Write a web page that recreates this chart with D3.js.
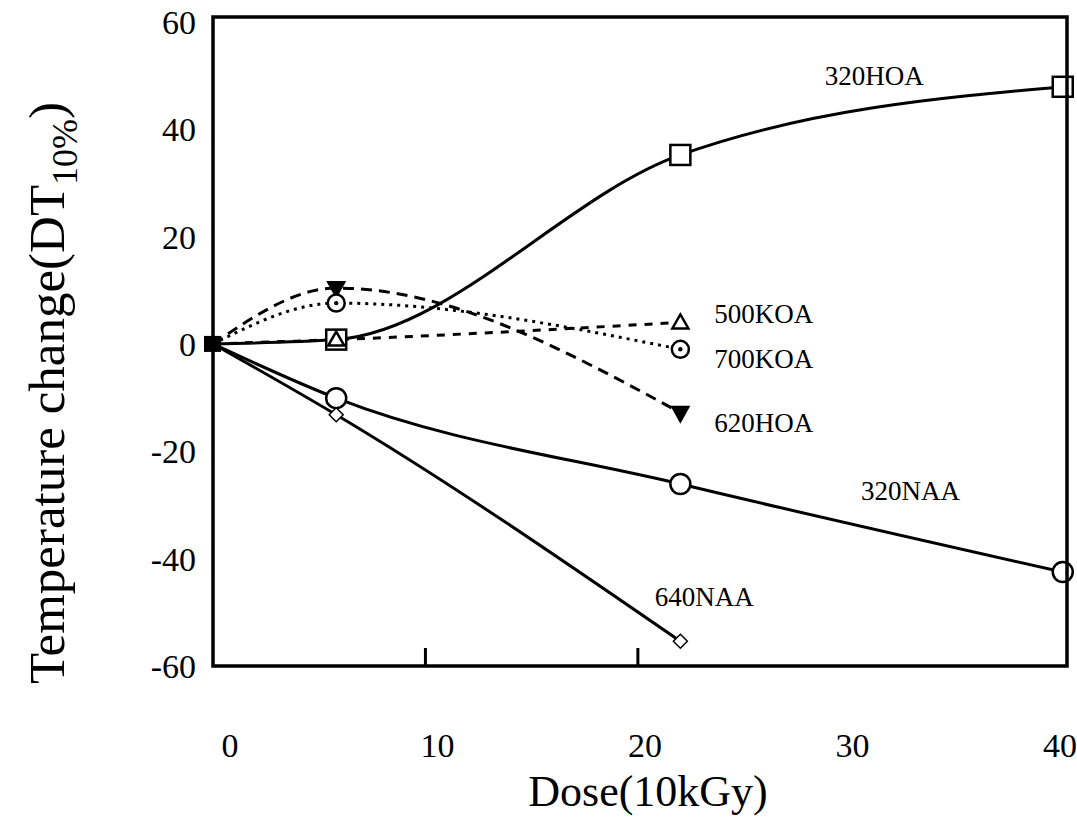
<!DOCTYPE html>
<html>
<head>
<meta charset="utf-8">
<script src="https://cdn.jsdelivr.net/npm/d3@7"></script>
<style>
body { margin: 0; background: #fff; }
text { font-family: "Liberation Serif", "Times New Roman", serif; fill: #000; }
</style>
</head>
<body>
<div id="chart"></div>
<script>
// dose values (10kGy) where samples were measured
var doses = [0, 5.8, 22, 40];
// temperature change DT10% per grade
var hoa320 = [0, 0.8, 35.2, 47.9];
var naa320 = [0, -10.1, -26.1, -42.5];
var naa640 = [0, -13.2, -55.4];
var koa500 = [0, 0.8, 4.0];
var koa700 = [0, 7.6, -1.0];
var hoa620 = [0, 10.4, -12.8];
var xTicks = [0, 10, 20, 30, 40];
var yTicks = [60, 40, 20, 0, -20, -40, -60];

var W = 1077, H = 819;
var box = {left: 213, right: 1067, top: 17, bottom: 666};

var svg = d3.select("#chart").append("svg")
    .attr("width", W)
    .attr("height", H);

var x = d3.scaleLinear().domain([0, 40.2]).range([box.left, box.right]);
var y = d3.scaleLinear().domain([-60, 60.9]).range([box.bottom, box.top]);
// tick labels in the scan sit a bit off the tick marks
var xLab = d3.scaleLinear().domain([0, 40]).range([230, 1060]);

function pts(vals) {
  return vals.map(function(v, i) { return [doses[i], v]; });
}

var line = d3.line()
    .x(function(d) { return x(d[0]); })
    .y(function(d) { return y(d[1]); })
    .curve(d3.curveMonotoneX);

var series = [
  {name: "320HOA", vals: hoa320, dash: null},
  {name: "320NAA", vals: naa320, dash: null},
  {name: "640NAA", vals: naa640, dash: null},
  {name: "500KOA", vals: koa500, dash: "8,8"},
  {name: "700KOA", vals: koa700, dash: "3,5"},
  {name: "620HOA", vals: hoa620, dash: "11,7"}
];

var plot = svg.append("g");
plot.selectAll("path.s")
  .data(series)
  .enter().append("path")
    .attr("class", "s")
    .attr("d", function(d) { return line(pts(d.vals)); })
    .attr("fill", "none")
    .attr("stroke", "#000")
    .attr("stroke-width", 3)
    .attr("stroke-dasharray", function(d) { return d.dash; });

// frame
svg.append("rect")
    .attr("x", box.left).attr("y", box.top)
    .attr("width", box.right - box.left).attr("height", box.bottom - box.top)
    .attr("fill", "none").attr("stroke", "#000").attr("stroke-width", 3.5);

// inner ticks that survive in the scan
svg.selectAll("line.tk")
  .data([10, 20])
  .enter().append("line")
    .attr("x1", function(d) { return x(d); })
    .attr("x2", function(d) { return x(d); })
    .attr("y1", box.bottom).attr("y2", box.bottom - 18)
    .attr("stroke", "#000").attr("stroke-width", 3);

// markers (skip origin, drawn as one filled square)
function marks(vals) { return pts(vals).slice(1); }

plot.selectAll("rect.sq")
  .data(marks(hoa320))
  .enter().append("rect")
    .attr("x", function(d) { return x(d[0]) - 10; })
    .attr("y", function(d) { return y(d[1]) - 10; })
    .attr("width", 20).attr("height", 20)
    .attr("fill", "#fff").attr("stroke", "#000").attr("stroke-width", 2.5);

plot.selectAll("path.tri")
  .data(marks(koa500))
  .enter().append("path")
    .attr("transform", function(d) { return "translate(" + x(d[0]) + "," + y(d[1]) + ")"; })
    .attr("d", "M0,-8L8,6L-8,6Z")
    .attr("fill", "#fff").attr("stroke", "#000").attr("stroke-width", 2.5);

plot.selectAll("path.dtri")
  .data(marks(hoa620))
  .enter().append("path")
    .attr("transform", function(d) { return "translate(" + x(d[0]) + "," + y(d[1]) + ")"; })
    .attr("d", "M-10,-7L10,-7L0,11Z")
    .attr("fill", "#000");

plot.selectAll("circle.c7")
  .data(marks(koa700))
  .enter().append("circle")
    .attr("cx", function(d) { return x(d[0]); })
    .attr("cy", function(d) { return y(d[1]); })
    .attr("r", 8.5)
    .attr("fill", "#fff").attr("stroke", "#000").attr("stroke-width", 2.5);
plot.selectAll("circle.c7d")
  .data(marks(koa700))
  .enter().append("circle")
    .attr("cx", function(d) { return x(d[0]); })
    .attr("cy", function(d) { return y(d[1]); })
    .attr("r", 2.2)
    .attr("fill", "#000");

plot.selectAll("circle.c3")
  .data(marks(naa320))
  .enter().append("circle")
    .attr("cx", function(d) { return x(d[0]); })
    .attr("cy", function(d) { return y(d[1]); })
    .attr("r", 10)
    .attr("fill", "#fff").attr("stroke", "#000").attr("stroke-width", 2.5);

plot.selectAll("path.dia")
  .data(marks(naa640))
  .enter().append("path")
    .attr("transform", function(d) { return "translate(" + x(d[0]) + "," + y(d[1]) + ")"; })
    .attr("d", "M0,-7L7,0L0,7L-7,0Z")
    .attr("fill", "#fff").attr("stroke", "#000").attr("stroke-width", 1.5);

plot.append("rect")
    .attr("x", x(0) - 9).attr("y", y(0) - 8)
    .attr("width", 17).attr("height", 16)
    .attr("fill", "#000");

// series labels
var labels = [
  {t: "320HOA", dx: 28.8, dy: 48.3},
  {t: "500KOA", dx: 23.6, dy: 3.9},
  {t: "700KOA", dx: 23.6, dy: -4.5},
  {t: "620HOA", dx: 23.6, dy: -16.4},
  {t: "320NAA", dx: 30.5, dy: -29.1},
  {t: "640NAA", dx: 20.8, dy: -48.8}
];
svg.selectAll("text.lab")
  .data(labels)
  .enter().append("text")
    .attr("class", "lab")
    .attr("x", function(d) { return x(d.dx); })
    .attr("y", function(d) { return y(d.dy); })
    .attr("font-size", 27)
    .text(function(d) { return d.t; });

// tick labels
svg.selectAll("text.xt")
  .data(xTicks)
  .enter().append("text")
    .attr("x", function(d) { return xLab(d); })
    .attr("y", 757)
    .attr("text-anchor", "middle")
    .attr("font-size", 34)
    .text(function(d) { return d; });

svg.selectAll("text.yt")
  .data(yTicks)
  .enter().append("text")
    .attr("x", 196)
    .attr("y", function(d) { return y(d) + 12; })
    .attr("text-anchor", "end")
    .attr("font-size", 34)
    .text(function(d) { return d; });

// axis titles
svg.append("text")
    .attr("x", 648).attr("y", 806)
    .attr("text-anchor", "middle")
    .attr("font-size", 44)
    .text("Dose(10kGy)");

var yt = svg.append("text")
    .attr("transform", "translate(64,393) rotate(-90)")
    .attr("text-anchor", "middle")
    .attr("font-size", 51);
yt.append("tspan").text("Temperature change(DT");
yt.append("tspan").attr("font-size", 36).attr("dy", 13).text("10%");
yt.append("tspan").attr("dy", -13).text(")");
</script>
</body>
</html>
